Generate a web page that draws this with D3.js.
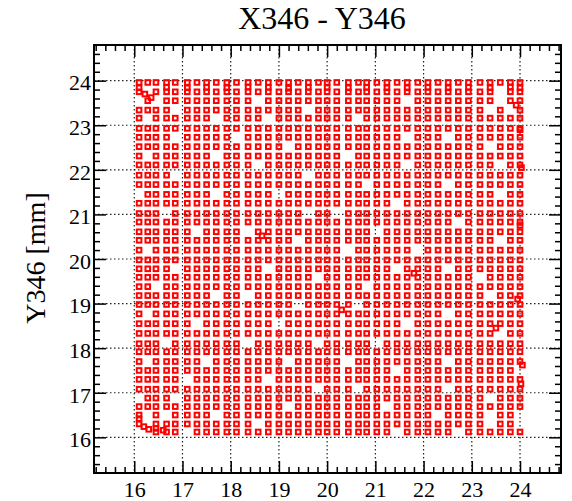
<!DOCTYPE html>
<html>
<head>
<meta charset="utf-8">
<script src="https://cdn.jsdelivr.net/npm/d3@7/dist/d3.min.js"></script>
<style>
  body { margin: 0; background: #fff; }
  svg text { font-family: "Liberation Serif", "DejaVu Serif", serif; }
</style>
</head>
<body>
<div id="grafico"></div>
<script>
// Valores
const titulo = "X346 - Y346";
const rotuloY = "Y346 [mm]";
const ticksX = [16, 17, 18, 19, 20, 21, 22, 23, 24];
const ticksY = [16, 17, 18, 19, 20, 21, 22, 23, 24];

// colunas e linhas da varredura (mm)
const colunasX = [16.1, 16.28, 16.45, 16.67, 16.85, 17.1, 17.3, 17.5, 17.7, 17.92,
  18.12, 18.36, 18.57, 18.78, 19.0, 19.2, 19.4, 19.61, 19.82, 20.0,
  20.2, 20.44, 20.65, 20.82, 21.03, 21.24, 21.45, 21.66, 21.88, 22.09,
  22.3, 22.51, 22.72, 22.93, 23.17, 23.38, 23.59, 23.8, 24.0];
const linhasY = [23.96, 23.75, 23.55, 23.34, 23.16, 22.93, 22.73, 22.52, 22.31, 22.11,
  21.88, 21.67, 21.45, 21.25, 21.02, 20.83, 20.61, 20.42, 20.2, 19.98,
  19.78, 19.59, 19.38, 19.18, 18.98, 18.77, 18.55, 18.33, 18.1, 17.92,
  17.7, 17.5, 17.3, 17.08, 16.88, 16.69, 16.5, 16.3, 16.12];

// o = ponto presente, . = sem ponto (uma linha por valor de linhasY)
const mapa = [
  "ooooooooooooooooooooooooooooooooooooooo",
  "o.oooooooooooooooooooooooooooooooooo.oo",
  ".o.ooooooooo.oooooooooooooo.oooooooo.oooo",
  "oooo.oooooooooooo.ooooooooooooooooo.o.o",
  "o.oooooo.oooo.oooooooo.oooooooooooooooo.",
  "ooooooooooooooooooooooooooooooooooooooo",
  "oooo.ooooo.oooooooooooooooo.ooo.ooooooo",
  "ooooooooooooooo.ooooooooooooooooooo.ooooo",
  "o.oooooo.oooooooooooo.ooooooooooooooooo",
  "oooooooooooo.oooooooooooooo.oooooooo.oo",
  "oooo.oooooooooooo.oooooooooooooooooooooo",
  "ooooooooooooooooooooooo.ooooooo.ooooooo",
  ".ooooooo.ooooo.ooooooooooooooooooooo.ooo",
  "oooooooooooooooooooooooooo.oooooooooooo",
  "ooo.ooooooooooooo.oo.oooooooooooooooooo.",
  "oooooooooooooooooooooooooooooooo.oooooo",
  "oooooo.oooo.oooooooooooo.oooooooooooooo",
  "oooooooooooooooo.ooooooooooooooooooo.oo",
  "o.ooooooooooooooooooo.oooooo.oooooooooo",
  "ooooooooooooooooooooooooooooooooooooooo",
  "oooo.oooooooo.oooooooooooo.oooo.ooooooo",
  "oooooooooooooooooo.ooooooooooooooo.oooo",
  "oo.oooooooooooooooooooo.ooooooooooooooo",
  "oooooooo.oo.ooooooooooooooooooooooo.oooo",
  "oooooooooooooooo.ooooo.oooooooooooooooo.",
  "o.ooooooooooooooooooooooooooooo.ooooooo",
  "oooooo.ooooooo.oooooooooooo.ooooooooooo",
  "oooooooooooooooooooooooooooooooooooo.oo",
  "ooo.ooooooo.oooooo.ooooo.oooooooooooooo",
  "ooooooooooooooooooooooooooooooooooooooo",
  "o.ooooo.ooooooo.ooooo.ooooooooo.oooooooo",
  "oooooooooooooooooooooooooo.ooooooooooo.o",
  "ooooo.ooooooo.ooooooooooooooooooooooooo",
  "oooooooooooooooooo.ooo.oooooooo.ooooooo",
  ".ooo.oooooooooooooooooooooooooooooo.ooo",
  "ooooooooooooooo.ooooooooo.ooooooooooooo",
  "o.o.oooo.ooooooooooooooooooooo.oooo.oo.o",
  "o.oooooooooo.oooooooooooooooooooooo.oo",
  "..ooo.oooooooooooooooooooo.ooooo.oooooo"
];

// pontos fora da grade (borda superior, direita e canto inferior esquerdo)
const extrasX = [16.1, 16.22, 16.35, 16.67, 17.1, 17.5, 17.92, 18.36, 18.78, 19.2, 19.61, 20.0, 20.44,
  20.82, 21.24, 21.66, 22.09, 22.51, 22.93, 23.38, 23.8, 24.0, 23.92, 24.0, 24.03, 24.0, 23.95,
  24.02, 24.05, 16.1, 16.2, 16.3, 16.45, 16.6, 20.3, 18.65, 21.8, 23.5];
const extrasY = [23.84, 23.7, 23.62, 23.85, 23.84, 23.85, 23.84, 23.86, 23.85, 23.83, 23.85, 23.85,
  23.84, 23.85, 23.84, 23.84, 23.85, 23.84, 23.85, 23.84, 23.86, 23.84, 23.45, 22.9, 22.05, 20.75,
  19.1, 17.2, 17.62, 16.42, 16.24, 16.18, 16.2, 16.16, 18.86, 20.52, 19.68, 18.45];

// Margens (caixa do gráfico)
const margin = { top: 45, right: 11, bottom: 28, left: 94 };
const largura = 572, altura = 501;
const width = largura - margin.left - margin.right;
const height = altura - margin.top - margin.bottom;

const svg = d3.select("#grafico")
  .append("svg")
    .attr("width", largura)
    .attr("height", altura)
  .append("g")
    .attr("transform", "translate(" + margin.left + "," + margin.top + ")");

const x = d3.scaleLinear().domain([15.165, 24.85]).range([0, width]);
const y = d3.scaleLinear().domain([15.2, 24.8]).range([height, 0]);

// ticks menores a cada 0.2
const menoresX = d3.range(76, 125).map(d => d / 5).filter(d => d > x.domain()[0] && d < x.domain()[1] && !Number.isInteger(d));
const menoresY = d3.range(76, 125).map(d => d / 5).filter(d => d > y.domain()[0] && d < y.domain()[1] && !Number.isInteger(d));

// grade pontilhada
svg.append("g").selectAll("line")
  .data(ticksX).enter().append("line")
    .attr("x1", d => x(d)).attr("x2", d => x(d))
    .attr("y1", 0).attr("y2", height)
    .attr("stroke", "#222").attr("stroke-width", 1.2)
    .attr("stroke-dasharray", "1.5,2.5");
svg.append("g").selectAll("line")
  .data(ticksY).enter().append("line")
    .attr("y1", d => y(d)).attr("y2", d => y(d))
    .attr("x1", 0).attr("x2", width)
    .attr("stroke", "#222").attr("stroke-width", 1.2)
    .attr("stroke-dasharray", "1.5,2.5");

// eixos: ticks para dentro
const fmt = d3.format("d");
function eixo(g, ax) {
  g.call(ax);
  g.attr("font-family", "Liberation Serif");
  g.select(".domain").remove();
  g.selectAll("line").attr("stroke", "#000").attr("stroke-width", 1.5);
}

svg.append("g").attr("transform", "translate(0," + height + ")")
  .call(eixo, d3.axisBottom(x).tickValues(menoresX).tickSize(-6).tickFormat(""));
const gx = svg.append("g").attr("transform", "translate(0," + height + ")")
  .call(eixo, d3.axisBottom(x).tickValues(ticksX).tickSize(-12).tickPadding(8).tickFormat(fmt));
gx.selectAll("text").attr("font-size", "22px").attr("fill", "#000");

svg.append("g").call(eixo, d3.axisTop(x).tickValues(menoresX).tickSize(-6).tickFormat(""));
svg.append("g").call(eixo, d3.axisTop(x).tickValues(ticksX).tickSize(-12).tickFormat(""));

svg.append("g").call(eixo, d3.axisLeft(y).tickValues(menoresY).tickSize(-6).tickFormat(""));
const gy = svg.append("g")
  .call(eixo, d3.axisLeft(y).tickValues(ticksY).tickSize(-12).tickPadding(3).tickFormat(fmt));
gy.selectAll("text").attr("font-size", "22px").attr("fill", "#000").attr("dy", "0.42em");

svg.append("g").attr("transform", "translate(" + width + ",0)")
  .call(eixo, d3.axisRight(y).tickValues(menoresY).tickSize(-6).tickFormat(""));
svg.append("g").attr("transform", "translate(" + width + ",0)")
  .call(eixo, d3.axisRight(y).tickValues(ticksY).tickSize(-12).tickFormat(""));

// pontos
const pontos = [];
mapa.forEach((linha, i) => {
  colunasX.forEach((cx, j) => {
    if (linha.charAt(j) === "o") pontos.push({ px: cx, py: linhasY[i] });
  });
});
extrasX.forEach((ex, k) => pontos.push({ px: ex, py: extrasY[k] }));

const lado = 4.6;
svg.append("g").selectAll("rect")
  .data(pontos).enter().append("rect")
    .attr("x", d => x(d.px) - lado / 2)
    .attr("y", d => y(d.py) - lado / 2)
    .attr("width", lado).attr("height", lado)
    .attr("fill", "none")
    .attr("stroke", "#ff0000")
    .attr("stroke-width", 2);

// moldura
svg.append("rect")
  .attr("width", width).attr("height", height)
  .attr("fill", "none").attr("stroke", "#000").attr("stroke-width", 2);

// título e rótulo vertical
d3.select("svg").append("text")
  .attr("x", 322).attr("y", 29)
  .attr("text-anchor", "middle")
  .attr("font-size", "32px")
  .text(titulo);

d3.select("svg").append("text")
  .attr("transform", "translate(45,258) rotate(-90)")
  .attr("text-anchor", "middle")
  .attr("font-size", "28px")
  .text(rotuloY);
</script>
</body>
</html>
